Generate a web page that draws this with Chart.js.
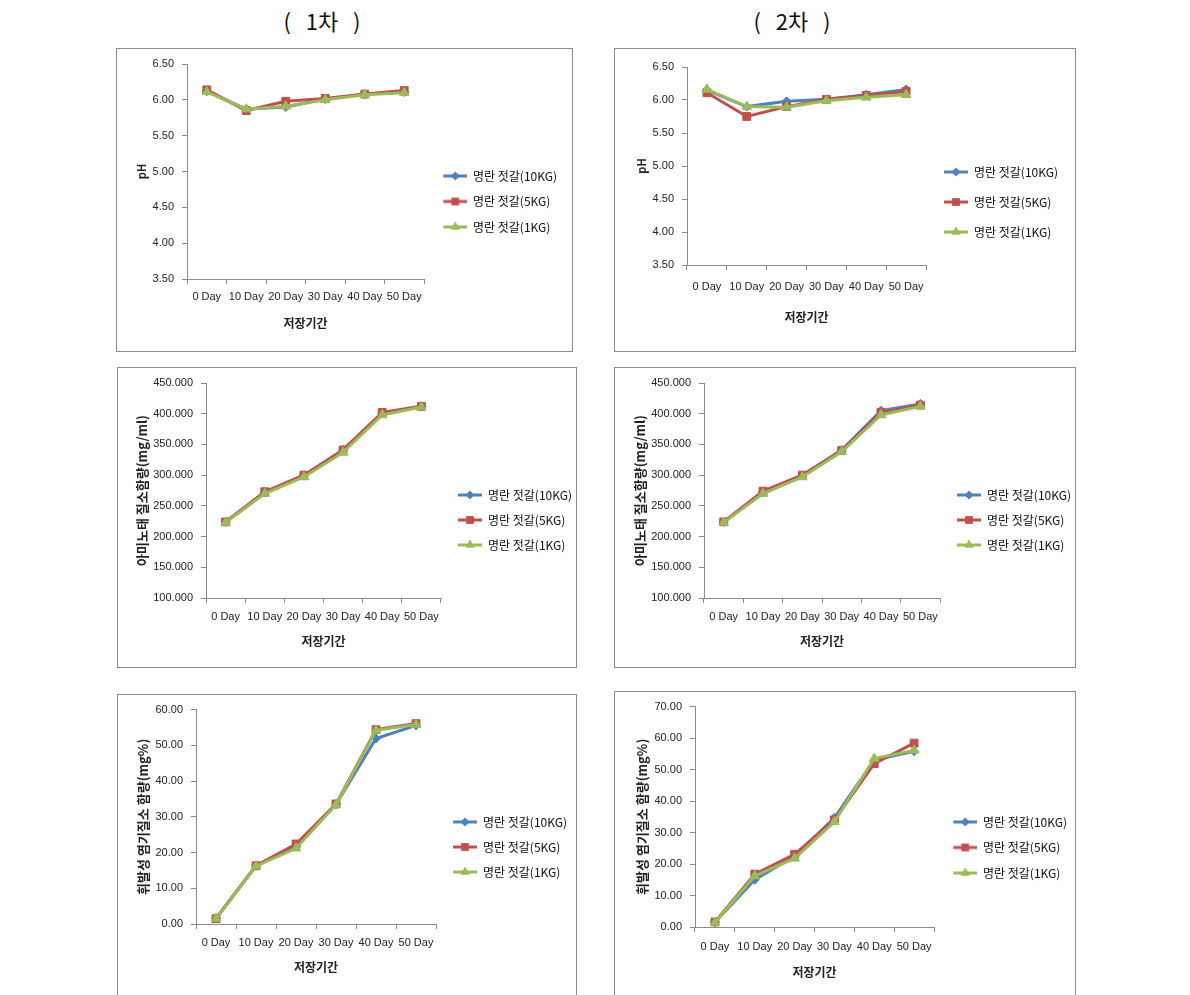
<!DOCTYPE html>
<html>
<head>
  <meta charset="utf-8">
  <title>명란 젓갈 저장기간별 품질 변화</title>
  <script src="https://cdn.jsdelivr.net/npm/chart.js"></script>
  <style>
    body { margin: 0; width: 1190px; height: 995px; overflow: hidden; background: #fff; position: relative; }
    .round { position: absolute; top: 5px; width: 180px; line-height: 30px; text-align: center; font-size: 22px; font-family: 'Noto Sans CJK KR', sans-serif; white-space: pre; color: #111; }
    .panel { position: absolute; box-sizing: border-box; border: 1px solid #8c8c8c; background: #fff; }
    .panel canvas { position: absolute; left: 0; top: 0; }
  </style>
</head>
<body>
  <div class="round" style="left:232px">(   1차   )</div>
  <div class="round" style="left:702px">(   2차   )</div>

  <script>
    const days = ["0 Day", "10 Day", "20 Day", "30 Day", "40 Day", "50 Day"];
    const seriesNames = ["명란 젓갈(10KG)", "명란 젓갈(5KG)", "명란 젓갈(1KG)"];

    // pH
    const phTicks = [3.5, 4.0, 4.5, 5.0, 5.5, 6.0, 6.5];
    const ph1_10kg = [6.12, 5.87, 5.90, 6.01, 6.08, 6.11];
    const ph1_5kg  = [6.14, 5.85, 5.98, 6.02, 6.08, 6.13];
    const ph1_1kg  = [6.11, 5.87, 5.91, 6.00, 6.07, 6.10];
    const ph2_10kg = [6.15, 5.90, 5.98, 6.01, 6.08, 6.16];
    const ph2_5kg  = [6.11, 5.75, 5.90, 6.01, 6.07, 6.13];
    const ph2_1kg  = [6.16, 5.90, 5.89, 5.99, 6.04, 6.08];

    // 아미노태 질소
    const aminoTicks = [100, 150, 200, 250, 300, 350, 400, 450];
    const amino1_10kg = [224, 272, 300, 341, 401, 412];
    const amino1_5kg  = [224, 273, 300, 341, 402, 412];
    const amino1_1kg  = [223, 270, 297, 337, 398, 411];
    const amino2_10kg = [224, 273, 300, 341, 405, 416];
    const amino2_5kg  = [224, 274, 300, 340, 402, 414];
    const amino2_1kg  = [223, 270, 297, 338, 398, 412];

    // 휘발성 염기질소
    const vbn1Ticks = [0, 10, 20, 30, 40, 50, 60];
    const vbn2Ticks = [0, 10, 20, 30, 40, 50, 60, 70];
    const vbn1_10kg = [1.6, 16.3, 21.8, 33.5, 51.9, 55.6];
    const vbn1_5kg  = [1.5, 16.3, 22.4, 33.6, 54.4, 56.1];
    const vbn1_1kg  = [1.5, 16.2, 21.2, 33.4, 54.2, 55.8];
    const vbn2_10kg = [1.5, 15.0, 22.5, 34.7, 53.0, 55.8];
    const vbn2_5kg  = [1.6, 16.8, 23.1, 34.0, 51.9, 58.4];
    const vbn2_1kg  = [1.4, 16.2, 21.8, 33.4, 53.5, 56.1];

    const colors = ["#4F81BD", "#C0504D", "#9BBB59"];
    const styles = ["rectRot", "rect", "triangle"];
    const radii = [4.5, 5.5, 5.5];
    const axisColor = "#8c8c8c";
    const cjk = "'Noto Sans CJK KR', sans-serif";
    const legendSize = 12;

    Chart.defaults.font.family = "'Liberation Sans', Arial, sans-serif";

    // page layout of the six boxes (absolute px)
    const panels = [
      { box: [116, 48, 457, 304], plot: [187, 64, 424, 279], yTitleX: 142, xLabelY: 297, xTitleY: 323,
        legX: 443, legY: 176, legStep: 25.5, yTitle: "pH", yTitleSize: 11, yTicks: phTicks, dec: 2,
        data: [ph1_10kg, ph1_5kg, ph1_1kg] },
      { box: [614, 48, 462, 304], plot: [687, 67, 926, 265], yTitleX: 642, xLabelY: 287, xTitleY: 317,
        legX: 944, legY: 172, legStep: 30, yTitle: "pH", yTitleSize: 11, yTicks: phTicks, dec: 2,
        data: [ph2_10kg, ph2_5kg, ph2_1kg] },
      { box: [117, 367, 460, 301], plot: [206, 383, 441, 598], yTitleX: 142, xLabelY: 617, xTitleY: 641,
        legX: 458, legY: 495, legStep: 25, yTitle: "아미노태 질소함량(mg/ml)", yTitleSize: 13, yTicks: aminoTicks, dec: 3,
        data: [amino1_10kg, amino1_5kg, amino1_1kg] },
      { box: [614, 367, 462, 301], plot: [704, 383, 940, 598], yTitleX: 640, xLabelY: 617, xTitleY: 641,
        legX: 957, legY: 495, legStep: 25, yTitle: "아미노태 질소함량(mg/ml)", yTitleSize: 13, yTicks: aminoTicks, dec: 3,
        data: [amino2_10kg, amino2_5kg, amino2_1kg] },
      { box: [117, 694, 460, 310], plot: [196, 709, 436, 924], yTitleX: 143, xLabelY: 943, xTitleY: 967,
        legX: 453, legY: 822, legStep: 25, yTitle: "휘발성 염기질소 함량(mg%)", yTitleSize: 13, yTicks: vbn1Ticks, dec: 2,
        data: [vbn1_10kg, vbn1_5kg, vbn1_1kg] },
      { box: [614, 691, 462, 313], plot: [695, 706, 934, 927], yTitleX: 642, xLabelY: 947, xTitleY: 972,
        legX: 953, legY: 822, legStep: 25.5, yTitle: "휘발성 염기질소 함량(mg%)", yTitleSize: 13, yTicks: vbn2Ticks, dec: 2,
        data: [vbn2_10kg, vbn2_5kg, vbn2_1kg] }
    ];

    // little "line + marker" picture for the legend, like Excel's
    function legendSymbol(i, gap) {
      const c = document.createElement("canvas");
      c.width = gap + 24;
      c.height = 14;
      const g = c.getContext("2d");
      g.strokeStyle = colors[i];
      g.fillStyle = colors[i];
      g.lineWidth = 3;
      g.beginPath(); g.moveTo(gap, 7); g.lineTo(gap + 24, 7); g.stroke();
      const cx = gap + 12, cy = 7, r = radii[i];
      g.beginPath();
      if (styles[i] === "rectRot") {
        g.moveTo(cx, cy - r); g.lineTo(cx + r, cy); g.lineTo(cx, cy + r); g.lineTo(cx - r, cy);
      } else if (styles[i] === "rect") {
        const s = r * Math.SQRT1_2;
        g.rect(cx - s, cy - s, 2 * s, 2 * s);
      } else {
        g.moveTo(cx, cy - r); g.lineTo(cx + r * 0.866, cy + r / 2); g.lineTo(cx - r * 0.866, cy + r / 2);
      }
      g.closePath();
      g.fill();
      return c;
    }

    function build(p) {
      const [bx, by, bw, bh] = p.box;
      const div = document.createElement("div");
      div.className = "panel";
      div.style.left = bx + "px";
      div.style.top = by + "px";
      div.style.width = bw + "px";
      div.style.height = bh + "px";
      document.body.appendChild(div);

      const cw = bw - 2, ch = bh - 2, ox = bx + 1, oy = by + 1;
      const canvas = document.createElement("canvas");
      canvas.width = cw;
      canvas.height = ch;
      div.appendChild(canvas);

      const pl = p.yTitleX - ox - p.yTitleSize * 1.2 / 2;
      const yW = p.plot[0] - ox - pl;
      const pt = p.plot[1] - oy;
      const scaleBottom = p.xTitleY - oy + 12 * 1.2 / 2;
      const xH = scaleBottom - (p.plot[3] - oy);
      const pb = ch - scaleBottom;
      const P = p.legStep - legendSize;
      const gap = Math.max(0, p.legX - p.plot[2] - P);
      const symbols = [0, 1, 2].map(i => legendSymbol(i, gap));

      const datasets = p.data.map((d, i) => ({
        label: seriesNames[i],
        data: d,
        borderColor: colors[i],
        backgroundColor: colors[i],
        borderWidth: 3,
        pointStyle: styles[i],
        pointRadius: radii[i],
        pointBorderWidth: 1,
        pointBackgroundColor: colors[i],
        pointBorderColor: colors[i],
        tension: 0,
        order: 2 - i
      }));

      const chart = new Chart(canvas, {
        type: "line",
        data: { labels: days, datasets: datasets },
        options: {
          responsive: false,
          animation: false,
          devicePixelRatio: 1,
          events: [],
          layout: { padding: { left: pl, top: pt, right: 0, bottom: pb } },
          plugins: {
            tooltip: { enabled: false },
            legend: {
              position: "right",
              align: "start",
              maxWidth: 300,
              title: { display: true, text: "", font: { size: 1 }, padding: { top: p.legY - oy - pt - P - legendSize / 2 - 1.2, bottom: 0 } },
              labels: {
                usePointStyle: true,
                pointStyleWidth: gap + 24,
                padding: P,
                color: "#111",
                font: { family: cjk, size: legendSize },
                generateLabels: (c) => Chart.defaults.plugins.legend.labels.generateLabels(c)
                  .map(l => Object.assign(l, { pointStyle: symbols[l.datasetIndex] })),
                sort: (a, b) => a.datasetIndex - b.datasetIndex
              }
            }
          },
          scales: {
            x: {
              offset: true,
              grid: { offset: true, drawOnChartArea: false, drawTicks: true, tickLength: 5, color: axisColor },
              border: { display: true, color: axisColor },
              ticks: { padding: p.xLabelY - p.plot[3] - 5 - 6.6, color: "#222", font: { size: 11 }, maxRotation: 0, autoSkip: false },
              title: { display: true, text: "저장기간", color: "#222", font: { family: cjk, size: 12, weight: "bold" }, padding: 0 },
              afterFit: (s) => { s.height = xH; }
            },
            y: {
              min: p.yTicks[0],
              max: p.yTicks[p.yTicks.length - 1],
              afterBuildTicks: (s) => { s.ticks = p.yTicks.map(v => ({ value: v })); },
              grid: { drawOnChartArea: false, drawTicks: true, tickLength: 5, color: axisColor },
              border: { display: true, color: axisColor },
              ticks: { padding: 8, color: "#222", font: { size: 11 }, callback: (v) => Number(v).toFixed(p.dec) },
              title: { display: true, text: p.yTitle, color: "#222", font: { family: cjk, size: p.yTitleSize, weight: "bold" }, padding: 0 },
              afterFit: (s) => { s.width = yW; }
            }
          }
        }
      });

      // second pass: put the plot's right edge and the legend rows where the picture has them
      const opts = chart.config.options;
      opts.layout.padding.right += chart.chartArea.right - (p.plot[2] - ox);
      const hb = chart.legend.legendHitBoxes[0];
      if (hb) opts.plugins.legend.title.padding.top += (p.legY - oy) - (hb.top + hb.height / 2);
      chart.update();
    }

    panels.forEach(build);
  </script>
</body>
</html>
